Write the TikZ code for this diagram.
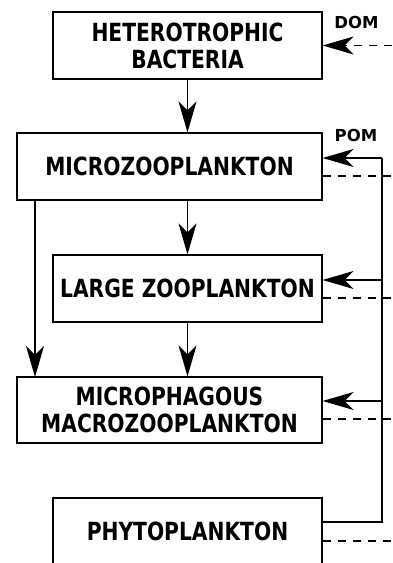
\documentclass[tikz,border=0pt]{standalone}
\usepackage{fontspec}
\setmainfont{DejaVu Sans Condensed Bold}[FakeStretch=0.9]
\newfontfamily\labelfont{DejaVu Sans Bold}
\usepackage{tikz}
\usetikzlibrary{positioning}
\usetikzlibrary{arrows.meta}
\tikzset{box/.style={draw,line width=1.2pt,minimum height=67pt,align=center,
  font=\fontsize{25}{27}\selectfont,inner sep=0pt}}
\tikzset{wide/.style={box,minimum width=305pt}}
\tikzset{narrow/.style={box,minimum width=269pt}}
\tikzset{arr/.style={-{Stealth[length=31pt,width=18pt,inset=9pt]},line width=1.3pt}}
\tikzset{flux/.style={dash pattern=on 8pt off 7pt,line width=1.2pt}}
\tikzset{lbl/.style={font=\labelfont\fontsize{16.5}{18}\selectfont,inner sep=0pt}}

\begin{document}
\begin{tikzpicture}[x=1pt,y=-1pt]
\useasboundingbox (0,0) rectangle (392,563);
\clip (0,0) rectangle (392,563);
\node[narrow] (bact) at (187.5,45.5) {HETEROTROPHIC\\BACTERIA};
\node[wide] (micro) at (169.5,166.5) {MICROZOOPLANKTON};
\node[narrow] (large) at (187.5,288.5) {LARGE ZOOPLANKTON};
\node[wide,minimum height=66pt] (macro) at (169.5,410) {MICROPHAGOUS\\MACROZOOPLANKTON};
\node[narrow] (phyto) at (187.5,531.5) {PHYTOPLANKTON};
\node[lbl] (dom) at (356.5,22.5) {DOM};
\node[lbl] (pom) at (356,135) {POM};
% grazing
\draw[arr] (bact) -- (bact |- micro.north);
\draw[arr] (micro) -- (micro.south -| large) -- (large.north);
\draw[arr] (large) -- (macro.north -| large);
\draw[arr] (35,200) -- (35,377);
% particulate flux
\coordinate (bustop) at (382,158);
\coordinate (busmid) at (382,280);
\coordinate (buslow) at (382,401);
\coordinate (busbot) at (382,522);
\draw[line width=1.3pt] (phyto.east |- busbot) -- (busbot) -- (bustop);
\draw[arr] (bustop) -- (micro.east |- bustop);
\draw[arr] (busmid) -- (large.east |- busmid);
\draw[arr] (buslow) -- (macro.east |- buslow);
% dissolved flux
\coordinate (dsrc) at (392,45.5);
\draw[flux,arr] (dsrc) -- (bact.east);
\foreach \n/\y in {micro/176,large/298,macro/419,phyto/541} {
\coordinate (\n out) at (392,\y);
\draw[flux] (\n.east |- \n out) -- (\n out);
}
\end{tikzpicture}
\end{document}
